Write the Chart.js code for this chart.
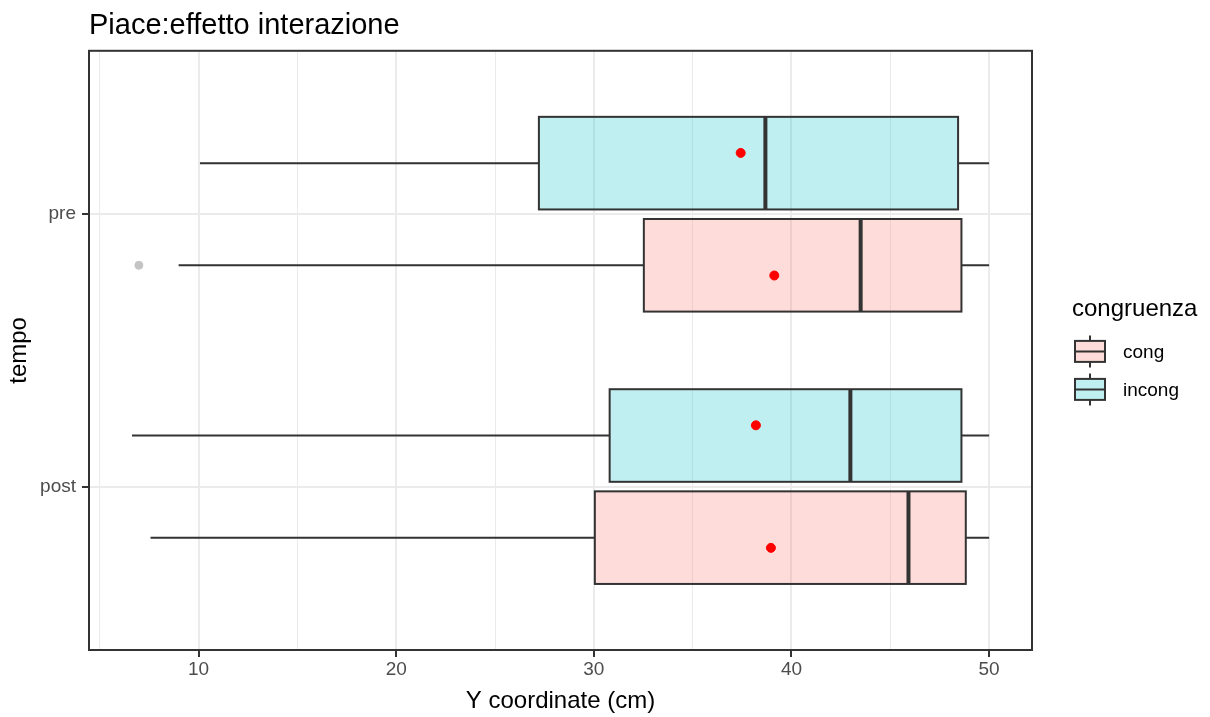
<!DOCTYPE html>
<html>
<head>
<meta charset="utf-8">
<script src="https://cdn.jsdelivr.net/npm/chart.js@4.4.1/dist/chart.umd.min.js"></script>
<style>
  body { margin: 0; background: #fff; }
  #box { width: 1210px; height: 717px; }
</style>
</head>
<body>
<div id="box"><canvas id="grafico" width="1210" height="717"></canvas></div>
<script>
// livelli di tempo (dal basso verso l'alto) e gruppi di congruenza
const tempi = ["post", "pre"]
const gruppi = ["cong", "incong"]

// statistiche dei boxplot, ordine: post, pre
const congMin = [7.57, 8.99]
const congQ1 = [30.05, 32.53]
const congMed = [45.92, 43.5]
const congQ3 = [48.82, 48.6]
const congMax = [50, 50]
const congMedia = [38.96, 39.13]

const incongMin = [6.63, 10.07]
const incongQ1 = [30.8, 27.22]
const incongMed = [42.98, 38.68]
const incongQ3 = [48.6, 48.43]
const incongMax = [50, 50]
const incongMedia = [38.2, 37.43]

// outlier: tempo, gruppo, valore
const outlierTempo = ["pre"]
const outlierGruppo = ["cong"]
const outlierValore = [6.98]

const xTicks = [10, 20, 30, 40, 50]

const stats = {
    cong: { min: congMin, q1: congQ1, med: congMed, q3: congQ3, max: congMax, media: congMedia },
    incong: { min: incongMin, q1: incongQ1, med: incongMed, q3: incongQ3, max: incongMax, media: incongMedia }
}

const fill = { cong: "rgba(248,118,109,0.26)", incong: "rgba(0,191,196,0.25)" }
const scarto = { cong: -1, incong: 1 }   // dodge: cong sotto, incong sopra
const DODGE = 0.1875
const MEZZA = 0.17
const DODGE_MEDIA = 0.225
const FONT = '"Liberation Sans", Arial, sans-serif'
const SCURO = "#333333"

Chart.defaults.font.family = FONT

const puntiMedia = (g) => tempi.map((t, i) => ({ x: stats[g].media[i], y: i + 1 + scarto[g] * DODGE_MEDIA }))
const puntiOutlier = outlierValore.map((v, k) => ({
    x: v,
    y: tempi.indexOf(outlierTempo[k]) + 1 + scarto[outlierGruppo[k]] * DODGE
}))

const boxplot = {
    id: "boxplot",
    beforeDatasetsDraw(chart) {
        const { ctx, scales: { x, y } } = chart
        ctx.save()
        gruppi.forEach(g => {
            const s = stats[g]
            tempi.forEach((t, i) => {
                const c = i + 1 + scarto[g] * DODGE
                const yc = y.getPixelForValue(c)
                const yt = y.getPixelForValue(c + MEZZA)
                const yb = y.getPixelForValue(c - MEZZA)
                const px = (v) => x.getPixelForValue(v)
                ctx.strokeStyle = SCURO
                ctx.lineWidth = 2
                // baffi
                ctx.beginPath()
                ctx.moveTo(px(s.min[i]), yc); ctx.lineTo(px(s.q1[i]), yc)
                ctx.moveTo(px(s.q3[i]), yc); ctx.lineTo(px(s.max[i]), yc)
                ctx.stroke()
                // scatola
                ctx.fillStyle = fill[g]
                ctx.fillRect(px(s.q1[i]), yt, px(s.q3[i]) - px(s.q1[i]), yb - yt)
                ctx.strokeRect(px(s.q1[i]), yt, px(s.q3[i]) - px(s.q1[i]), yb - yt)
                // mediana
                ctx.lineWidth = 4
                ctx.beginPath()
                ctx.moveTo(px(s.med[i]), yt); ctx.lineTo(px(s.med[i]), yb)
                ctx.stroke()
            })
        })
        ctx.restore()
    },
    afterDatasetsDraw(chart) {
        const { ctx, chartArea: a } = chart
        ctx.save()
        ctx.strokeStyle = SCURO
        ctx.lineWidth = 2
        ctx.strokeRect(a.left, a.top, a.right - a.left, a.bottom - a.top)
        ctx.restore()
    },
    afterDraw(chart) {
        // legenda
        const { ctx, chartArea: a } = chart
        const mid = (a.top + a.bottom) / 2
        const lx = a.right + 40
        ctx.save()
        ctx.fillStyle = "#000"
        ctx.textBaseline = "middle"
        ctx.textAlign = "left"
        ctx.font = "24px " + FONT
        ctx.fillText("congruenza", lx, mid - 41)
        gruppi.forEach((g, i) => {
            const cy = mid + 1 + i * 38
            const kx = lx + 3
            ctx.fillStyle = "#fff"
            ctx.fillRect(kx, cy - 10.5, 30, 21)
            ctx.fillStyle = fill[g]
            ctx.fillRect(kx, cy - 10.5, 30, 21)
            ctx.strokeStyle = SCURO
            ctx.lineWidth = 2
            ctx.strokeRect(kx, cy - 10.5, 30, 21)
            ctx.beginPath()
            ctx.moveTo(kx + 15, cy - 16); ctx.lineTo(kx + 15, cy - 10.5)
            ctx.moveTo(kx + 15, cy + 10.5); ctx.lineTo(kx + 15, cy + 16)
            ctx.moveTo(kx, cy); ctx.lineTo(kx + 30, cy)
            ctx.stroke()
            ctx.fillStyle = "#000"
            ctx.font = "19px " + FONT
            ctx.fillText(g, lx + 51, cy + 1)
        })
        ctx.restore()
    }
}

const grafico = new Chart(document.getElementById("grafico"), {
    type: "scatter",
    data: {
        datasets: [
            ...gruppi.map(g => ({
                label: g,
                data: puntiMedia(g),
                backgroundColor: "#FF0000",
                borderColor: "#FF0000",
                pointRadius: 4.5,
                pointHoverRadius: 4.5
            })),
            {
                label: "outlier",
                data: puntiOutlier,
                backgroundColor: "#C4C4C4",
                borderColor: "#C4C4C4",
                pointRadius: 4,
                pointHoverRadius: 4
            }
        ]
    },
    options: {
        responsive: false,
        animation: false,
        layout: { padding: { left: 0, right: 178, top: 0, bottom: 0 } },
        plugins: {
            legend: { display: false },
            tooltip: { enabled: false },
            title: {
                display: true,
                text: "Piace:effetto interazione",
                align: "start",
                fullSize: false,
                color: "#000",
                font: { size: 29, weight: "normal", lineHeight: 1.2 },
                padding: { top: 9, bottom: 7 }
            }
        },
        scales: {
            x: {
                type: "linear",
                min: 4.456,
                max: 52.17,
                afterFit: (s) => { s.height = 67 },
                border: { display: false },
                grid: {
                    color: "#EBEBEB",
                    lineWidth: (c) => xTicks.includes(c.tick && c.tick.value) ? 2 : 1,
                    tickColor: (c) => xTicks.includes(c.tick && c.tick.value) ? SCURO : "rgba(0,0,0,0)",
                    tickWidth: 2,
                    tickLength: 7
                },
                ticks: {
                    stepSize: 5,
                    includeBounds: false,
                    autoSkip: false,
                    maxRotation: 0,
                    padding: 1,
                    color: "#4D4D4D",
                    font: { size: 19 },
                    callback: (v) => xTicks.includes(v) ? v : ""
                },
                title: {
                    display: true,
                    text: "Y coordinate (cm)",
                    color: "#000",
                    font: { size: 24 },
                    padding: { top: 0, bottom: 1 }
                }
            },
            y: {
                type: "linear",
                min: 0.4,
                max: 2.6,
                afterFit: (s) => { s.width = 89 },
                afterBuildTicks: (s) => { s.ticks = tempi.map((t, i) => ({ value: i + 1 })) },
                border: { display: false },
                grid: {
                    color: "#EBEBEB",
                    lineWidth: 2,
                    tickColor: SCURO,
                    tickWidth: 2,
                    tickLength: 7
                },
                ticks: {
                    padding: 6,
                    color: "#4D4D4D",
                    font: { size: 19 },
                    callback: (v) => tempi[Math.round(v) - 1]
                },
                title: {
                    display: true,
                    text: "tempo",
                    color: "#000",
                    font: { size: 24 },
                    padding: { top: 5, bottom: 0 }
                }
            }
        }
    },
    plugins: [boxplot]
})
</script>
</body>
</html>
